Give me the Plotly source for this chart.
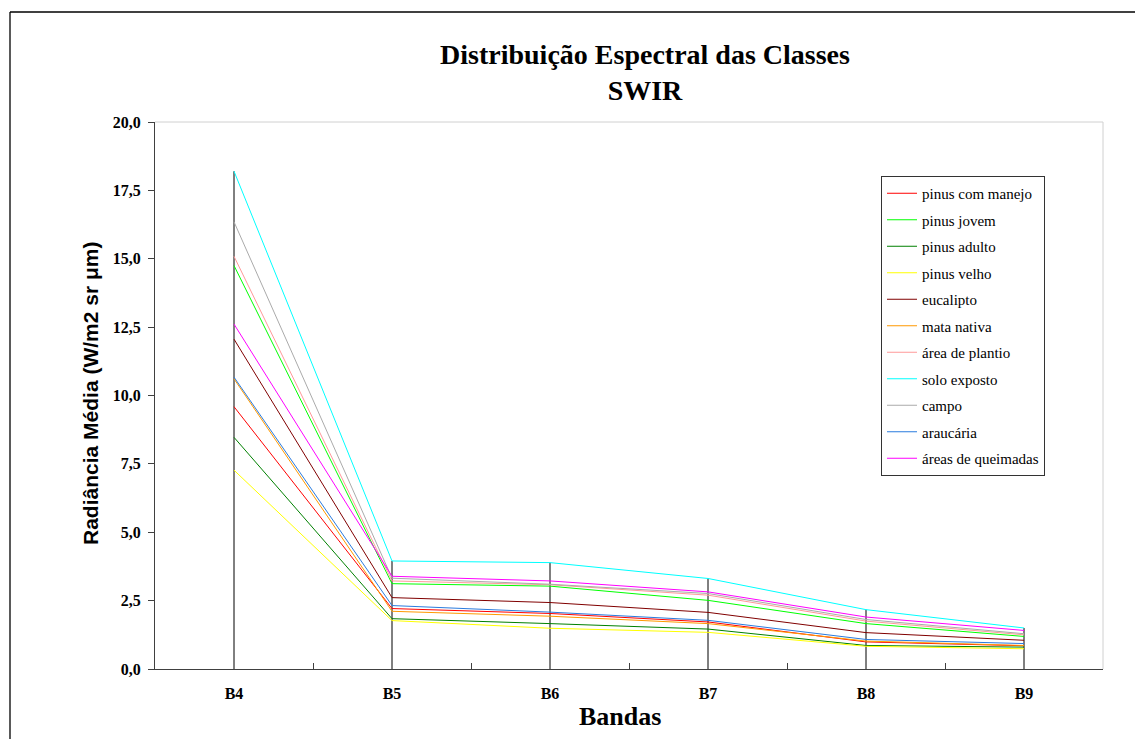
import plotly.graph_objects as go

bands = ["B4", "B5", "B6", "B7", "B8", "B9"]

pinus_com_manejo = [9.59, 2.21, 2.03, 1.72, 0.99, 0.85]
pinus_jovem = [14.75, 3.12, 3.03, 2.51, 1.66, 1.19]
pinus_adulto = [8.47, 1.84, 1.66, 1.46, 0.86, 0.80]
pinus_velho = [7.27, 1.77, 1.49, 1.34, 0.83, 0.74]
eucalipto = [12.06, 2.61, 2.43, 2.07, 1.33, 1.05]
mata_nativa = [10.61, 2.11, 1.93, 1.66, 1.02, 0.86]
area_de_plantio = [15.09, 3.22, 3.08, 2.70, 1.75, 1.25]
solo_exposto = [18.20, 3.95, 3.89, 3.31, 2.17, 1.50]
campo = [16.35, 3.32, 3.10, 2.76, 1.81, 1.29]
araucaria = [10.67, 2.32, 2.08, 1.78, 1.08, 0.93]
areas_de_queimadas = [12.61, 3.39, 3.22, 2.82, 1.90, 1.41]

series_names = ["pinus com manejo", "pinus jovem", "pinus adulto", "pinus velho",
                "eucalipto", "mata nativa", "área de plantio", "solo exposto",
                "campo", "araucária", "áreas de queimadas"]
series_values = [pinus_com_manejo, pinus_jovem, pinus_adulto, pinus_velho,
                 eucalipto, mata_nativa, area_de_plantio, solo_exposto,
                 campo, araucaria, areas_de_queimadas]
series_colors = ["#FF0000", "#00FF00", "#008000", "#FFFF00", "#800000", "#FF9900",
                 "#FF9999", "#00FFFF", "#AAAAAA", "#2A7BDE", "#FF00FF"]

ytick_vals = [0, 2.5, 5, 7.5, 10, 12.5, 15, 17.5, 20]
ytick_labels = ["0,0", "2,5", "5,0", "7,5", "10,0", "12,5", "15,0", "17,5", "20,0"]

W, H = 1135, 739
ML, MR, MT, MB = 155, 32, 122, 70
PW, PH = W - ML - MR, H - MT - MB

def px_x(p):
    return (p - ML) / PW

def px_y(q):
    return (H - MB - q) / PH

serif = "Liberation Serif, Times New Roman, serif"
sans = "Liberation Sans, Arial, sans-serif"

fig = go.Figure()

# drop lines from highest value down to axis
dx, dy = [], []
for i, b in enumerate(bands):
    top = max(v[i] for v in series_values)
    dx += [b, b, None]
    dy += [0, top, None]
fig.add_trace(go.Scatter(x=dx, y=dy, mode="lines", line=dict(color="black", width=1),
                         showlegend=False, hoverinfo="skip"))

for name, vals, col in zip(series_names, series_values, series_colors):
    fig.add_trace(go.Scatter(x=bands, y=vals, mode="lines", name=name,
                             legendgroup=name,
                             line=dict(color=col, width=1)))

fig.update_layout(
    width=W, height=H,
    margin=dict(l=ML, r=MR, t=MT, b=MB),
    paper_bgcolor="white", plot_bgcolor="white",
    separators=",.",
    title=dict(text="Distribuição Espectral das Classes<br>SWIR",
               font=dict(family=serif, size=28, color="black", weight="bold"),
               x=px_x(645), xref="paper", xanchor="center",
               y=1 - 64 / H, yref="container", yanchor="top"),
    showlegend=True,
    legend=dict(x=px_x(881), y=px_y(176), xanchor="left", yanchor="top",
                bgcolor="white", bordercolor="#333333", borderwidth=1,
                font=dict(family=serif, size=15, color="black"),
                tracegroupgap=4, itemwidth=30),
    xaxis=dict(type="category", range=[-0.5, 5.5], showgrid=False,
               showline=True, linecolor="#404040", linewidth=1,
               ticks="inside", tickson="boundaries", ticklen=6, tickcolor="#404040",
               tickfont=dict(family=serif, size=16, color="black", weight="bold"),
               ticklabelstandoff=10, zeroline=False),
    yaxis=dict(range=[0, 20], showgrid=False, zeroline=False,
               showline=True, linecolor="#404040", linewidth=1,
               ticks="outside", ticklen=6, tickcolor="#404040",
               tickvals=ytick_vals, ticktext=ytick_labels,
               tickfont=dict(family=serif, size=16, color="black", weight="bold"),
               ticklabelstandoff=4),
    annotations=[
        dict(text="Radiância Média (W/m2 sr μm)", textangle=-90,
             xref="paper", yref="paper", x=px_x(90), y=px_y(394),
             xanchor="center", yanchor="middle", showarrow=False,
             font=dict(family=sans, size=21, color="black", weight="bold")),
        dict(text="Bandas", xref="paper", yref="paper", x=px_x(620), y=px_y(733),
             xanchor="center", yanchor="bottom", showarrow=False,
             font=dict(family=serif, size=26, color="black", weight="bold")),
    ],
    shapes=[
        dict(type="line", xref="paper", yref="paper", x0=0, x1=1, y0=1, y1=1,
             line=dict(color="#D0D0D0", width=1)),
        dict(type="line", xref="paper", yref="paper", x0=1, x1=1, y0=0, y1=1,
             line=dict(color="#D0D0D0", width=1)),
        dict(type="line", xref="paper", yref="paper", x0=px_x(10), x1=px_x(10),
             y0=px_y(12), y1=px_y(760), line=dict(color="black", width=1.3)),
        dict(type="line", xref="paper", yref="paper", x0=px_x(10), x1=px_x(1160),
             y0=px_y(12), y1=px_y(12), line=dict(color="black", width=1.3)),
    ],
)

fig.write_html("out.html")
